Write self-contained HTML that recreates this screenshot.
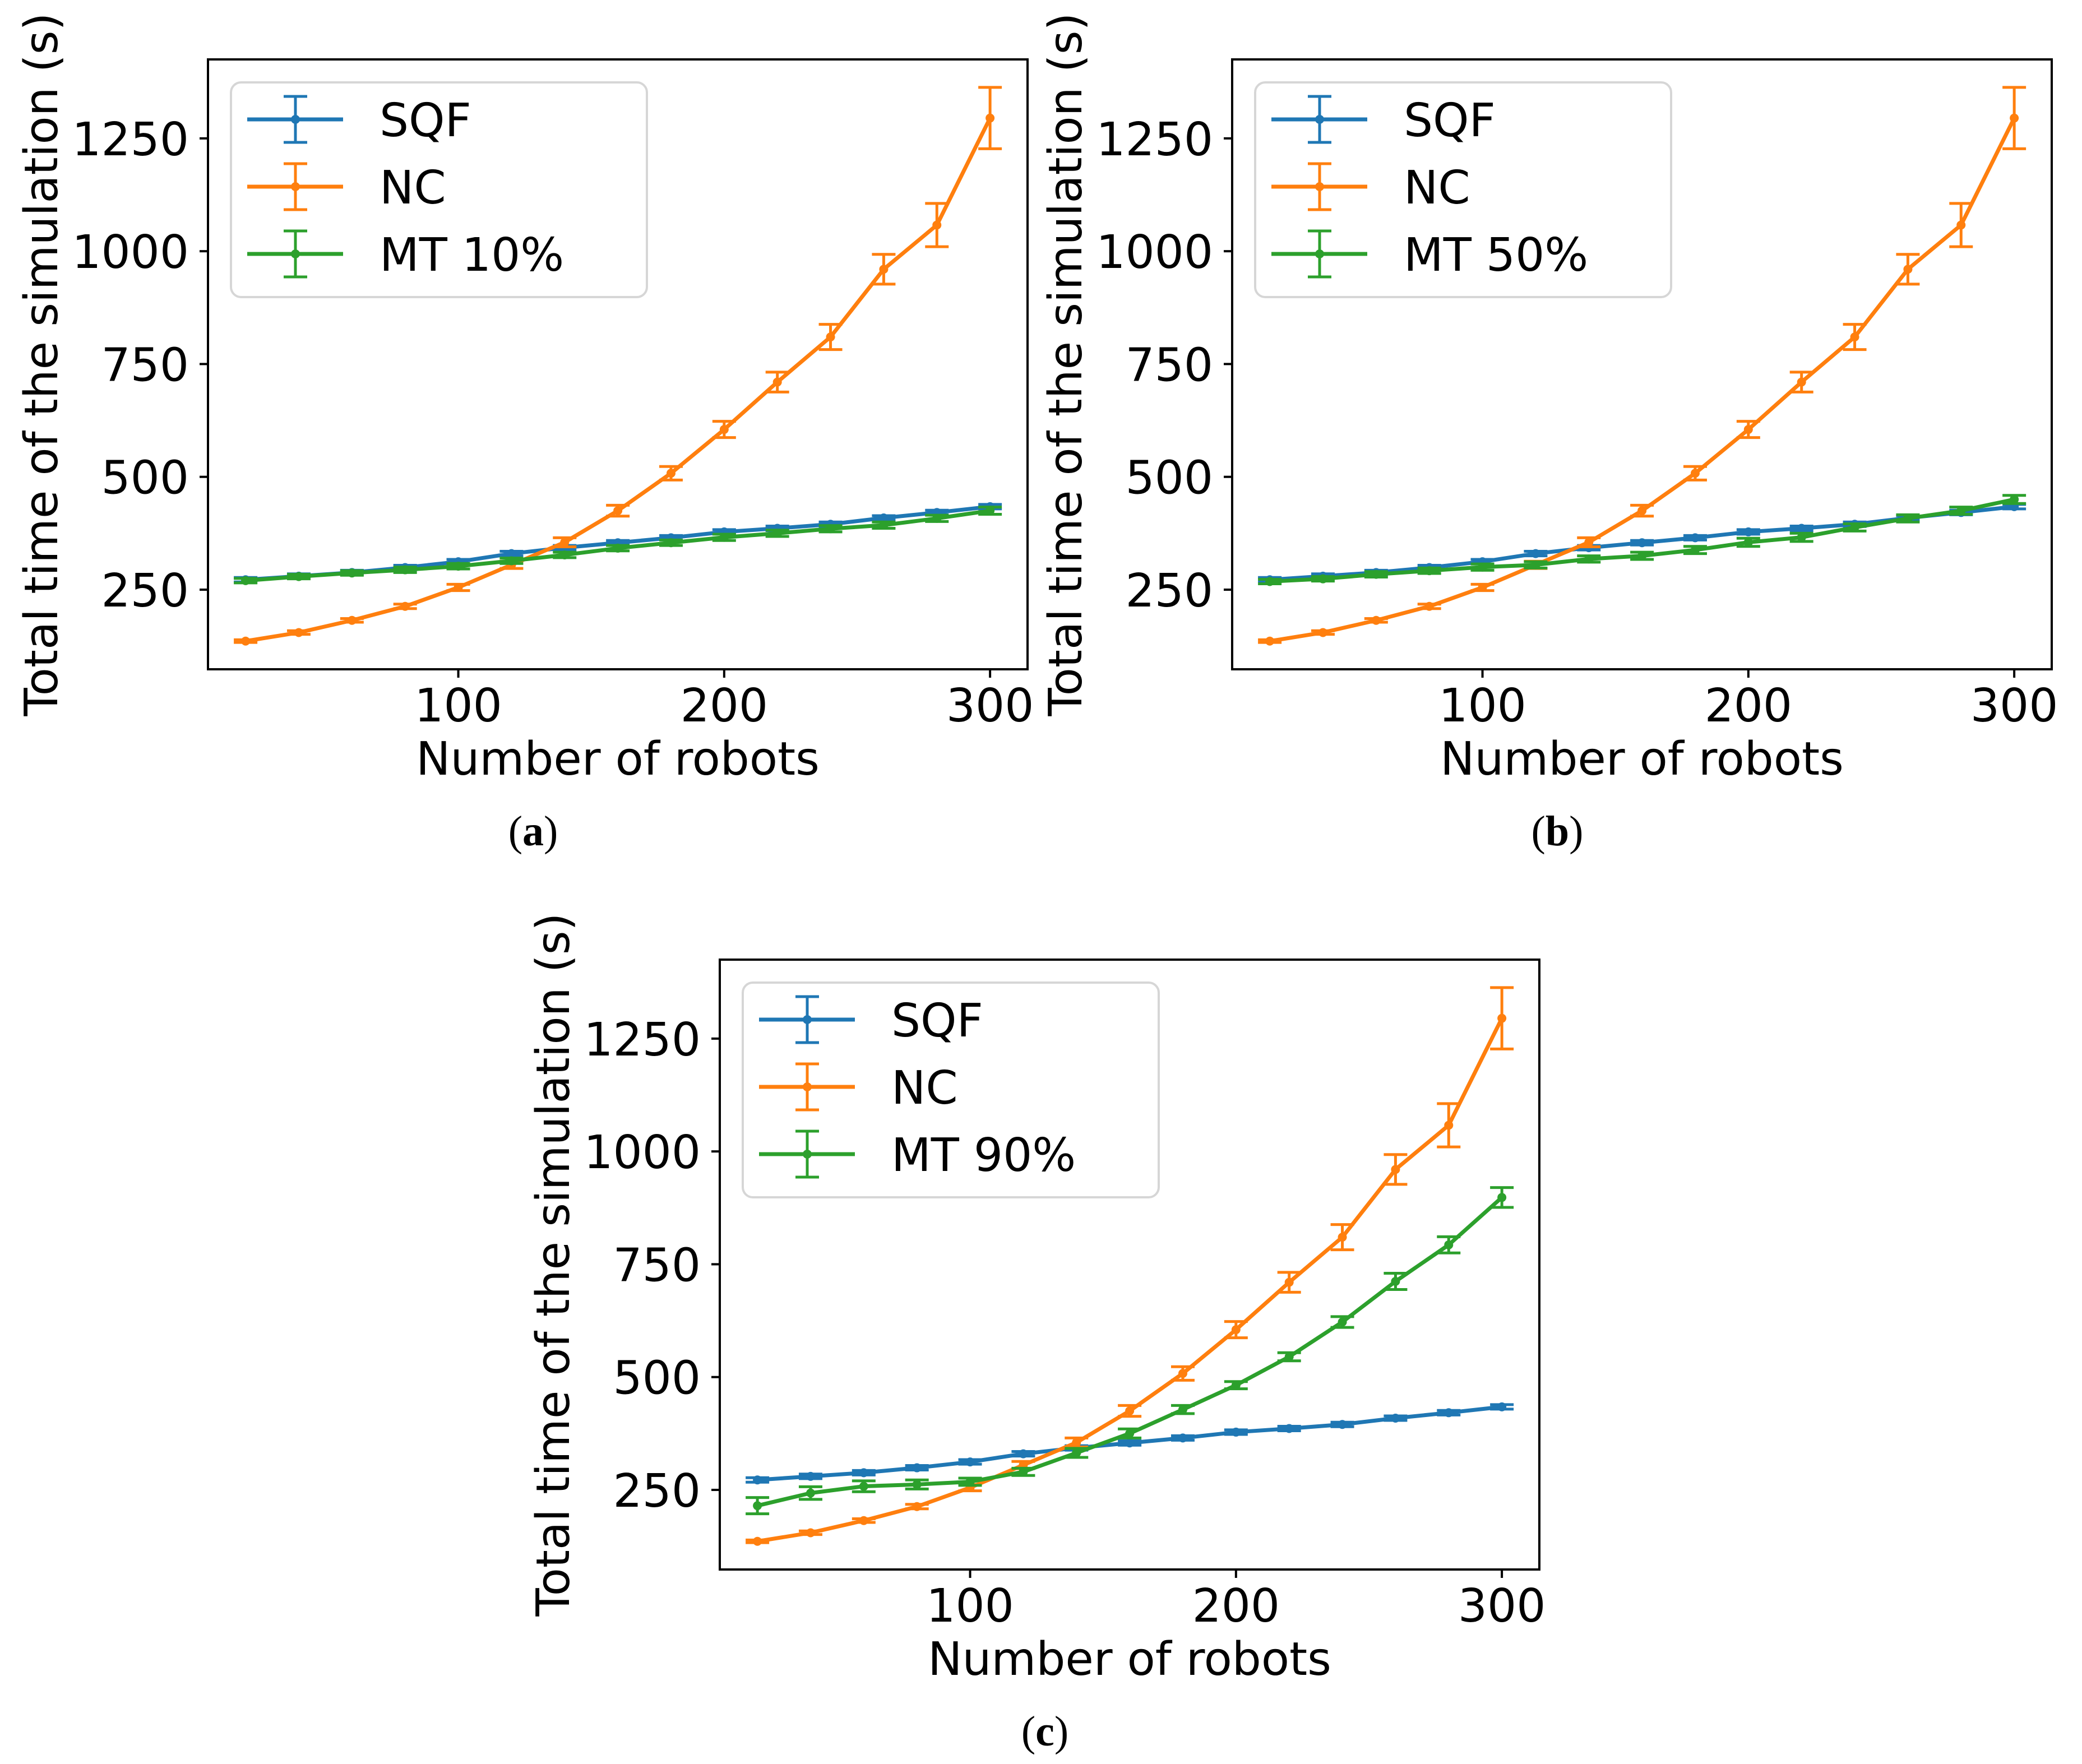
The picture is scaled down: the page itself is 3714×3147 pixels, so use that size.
<!DOCTYPE html>
<html><head><meta charset="utf-8"><style>
html,body{margin:0;padding:0;background:#fff;}
svg{display:block;}
text{font-family:"DejaVu Sans","Liberation Sans",sans-serif;fill:#000;}
.cap{font-family:"Liberation Serif",serif;font-weight:normal;}
</style></head><body>
<svg id="fig" xmlns="http://www.w3.org/2000/svg" width="3714" height="3147" viewBox="0 0 3714 3147"></svg>
<script>
const robots = [20,40,60,80,100,120,140,160,180,200,220,240,260,280,300];
const sqfMean = [272,280,288,299,312,330,343,354,365,378,386,395,409,421,434];
const sqfErr  = [5,5,5,5,5,5,5,5,5,5,5,5,5,5,5];
const ncMean  = [136,155,182,213,255,305,355,425,508,605,710,810,960,1058,1295];
const ncErr   = [3,4,4,5,7,8,10,12,15,18,22,28,33,48,68];
const mt10Mean = [270,279,287,294,302,314,327,342,354,366,375,385,393,408,425];
const mt10Err  = [5,5,5,6,6,6,6,6,6,7,7,7,7,7,8];
const mt50Mean = [268,274,284,292,300,305,318,325,338,355,366,388,408,425,450];
const mt50Err  = [5,5,6,6,7,7,7,8,8,9,9,8,8,8,9];
const mt90Mean = [215,243,258,262,268,290,332,375,428,482,545,622,712,793,898];
const mt90Err  = [18,14,12,10,8,8,10,10,9,8,9,12,18,18,22];
const yTicks = [250,500,750,1000,1250];
const xTicks = [100,200,300];
const mtLabels = ["MT 10%","MT 50%","MT 90%"];
const captions = ["a","b","c"];

const NS="http://www.w3.org/2000/svg";
const svg=document.getElementById('fig');
function mk(tag,attrs,parent){const e=document.createElementNS(NS,tag);for(const k in attrs)e.setAttribute(k,attrs[k]);(parent||svg).appendChild(e);return e;}

const W=1462,H=1088;
const panels=[{x:371,y:106},{x:2198,y:106},{x:1284,y:1712}];
const blue="#1f77b4",orange="#ff7f0e",green="#2ca02c";

panels.forEach((p,i)=>{
  const g=mk('g',{});
  
  
  const X=v=>p.x+(v-5.85)*(W/(314.1-5.85));
  const Y=v=>p.y+H-(v-73.6)*(H/(1425-73.6));
  const mts=[[mt10Mean,mt10Err],[mt50Mean,mt50Err],[mt90Mean,mt90Err]][i];
  const series=[[sqfMean,sqfErr,blue,'sqf'],[ncMean,ncErr,orange,'nc'],[mts[0],mts[1],green,'mt']];
  series.forEach(s=>{
    const sg=mk('g',{},g);
    
    
    let d='';
    robots.forEach((r,k)=>{d+=(k?'L':'M')+X(r)+' '+Y(s[0][k]);});
    mk('path',{d:d,fill:'none',stroke:s[2],'stroke-width':7,'stroke-linejoin':'round'},sg);
    robots.forEach((r,k)=>{
      const x=X(r),y1=Y(s[0][k]-s[1][k]),y2=Y(s[0][k]+s[1][k]);
      mk('line',{x1:x,x2:x,y1:y1,y2:y2,stroke:s[2],'stroke-width':5},sg);
      mk('line',{x1:x-21,x2:x+21,y1:y1,y2:y1,stroke:s[2],'stroke-width':5},sg);
      mk('line',{x1:x-21,x2:x+21,y1:y2,y2:y2,stroke:s[2],'stroke-width':5},sg);
      const c=mk('circle',{cx:x,cy:Y(s[0][k]),r:8,fill:s[2]},sg);
      
      
    });
  });
  const fr=mk('rect',{x:p.x,y:p.y,width:W,height:H,fill:'none',stroke:'#000','stroke-width':4},g);
  
  
  yTicks.forEach(t=>{
    const y=Y(t);
    mk('line',{x1:p.x-15,x2:p.x,y1:y,y2:y,stroke:'#000','stroke-width':4},g);
    const tx=mk('text',{x:p.x-34,y:y+30,'font-size':82,'text-anchor':'end'},g);
    tx.textContent=t;
    
    
  });
  xTicks.forEach(t=>{
    const x=X(t);
    mk('line',{x1:x,x2:x,y1:p.y+H,y2:p.y+H+15,stroke:'#000','stroke-width':4},g);
    const tx=mk('text',{x:x,y:p.y+H+93,'font-size':82,'text-anchor':'middle'},g);
    tx.textContent=t;
    
    
  });
  const xl=mk('text',{x:p.x+W/2,y:p.y+H+188,'font-size':82,'text-anchor':'middle'},g);
  xl.textContent='Number of robots';
  
  
  const yl=mk('text',{x:0,y:0,'font-size':82,'text-anchor':'middle',transform:`translate(${p.x-269},${p.y+H/2}) rotate(-90)`},g);
  yl.textContent='Total time of the simulation (s)';
  
  
  const lg=mk('g',{},g);
  
  
  mk('rect',{x:p.x+41,y:p.y+41,width:742,height:383,rx:18,fill:'#fff','fill-opacity':0.8,stroke:'#d6d6d6','stroke-width':4},lg);
  const names=['SQF','NC',mtLabels[i]],cols=[blue,orange,green];
  names.forEach((n,k)=>{
    const cy=p.y+107+k*120,lx=p.x+70,mx=p.x+156;
    const e=mk('g',{},lg);
    
    
    mk('line',{x1:lx,x2:lx+171,y1:cy,y2:cy,stroke:cols[k],'stroke-width':7},e);
    mk('line',{x1:mx,x2:mx,y1:cy-41,y2:cy+41,stroke:cols[k],'stroke-width':5},e);
    mk('line',{x1:mx-21,x2:mx+21,y1:cy-41,y2:cy-41,stroke:cols[k],'stroke-width':5},e);
    mk('line',{x1:mx-21,x2:mx+21,y1:cy+41,y2:cy+41,stroke:cols[k],'stroke-width':5},e);
    mk('circle',{cx:mx,cy:cy,r:8,fill:cols[k]},e);
    const t=mk('text',{x:p.x+306,y:cy+30,'font-size':82},e);
    t.textContent=n;
  });
  const cp=mk('text',{x:p.x+580,y:p.y+1402,'font-size':76,'text-anchor':'middle',class:'cap'});
  
  
  const t1=mk('tspan',{},cp); t1.textContent='(';
  const t2=mk('tspan',{'font-weight':'bold'},cp); t2.textContent=captions[i];
  const t3=mk('tspan',{},cp); t3.textContent=')';
});
</script>
</body></html>
